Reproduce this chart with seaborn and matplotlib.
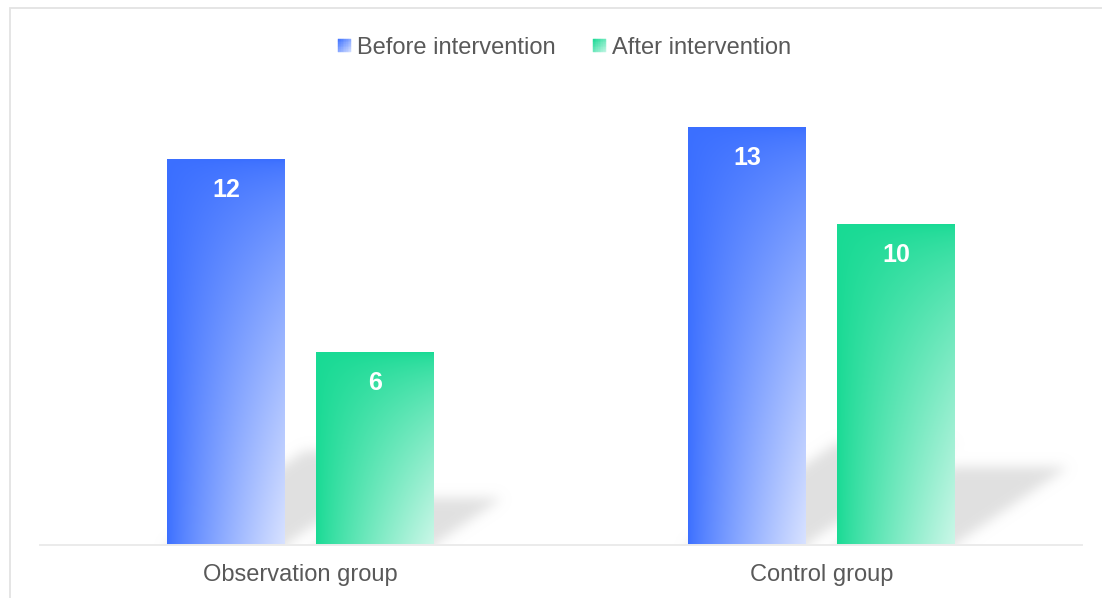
import numpy as np
import pandas as pd
import matplotlib
matplotlib.use("Agg")
import matplotlib.pyplot as plt
import seaborn as sns
from matplotlib.legend_handler import HandlerBase
from matplotlib.patches import Rectangle, Patch

# ---- data ----
groups = ["Observation group", "Control group"]
periods = ["Before intervention", "After intervention"]
before = [12, 13]
after = [6, 10]

df = pd.DataFrame({
    "group": groups * 2,
    "period": [periods[0]] * len(groups) + [periods[1]] * len(groups),
    "value": before + after,
})

# strong / pale ends of each series gradient
strong = {periods[0]: np.array([59, 111, 255]) / 255,
          periods[1]: np.array([24, 218, 148]) / 255}
pale = {periods[0]: np.array([216, 226, 255]) / 255,
        periods[1]: np.array([203, 247, 232]) / 255}

TEXT = "#595959"

sns.set_style("white")
plt.rcParams["font.family"] = ["Liberation Sans", "DejaVu Sans"]

W_PX, H_PX = 1102, 598
fig = plt.figure(figsize=(W_PX / 100, H_PX / 100), dpi=100)
ax = fig.add_axes([40 / W_PX, 1 - 545 / H_PX, 1042 / W_PX, (545 - 95.6) / H_PX])

sns.barplot(data=df, x="group", y="value", hue="period", order=groups,
            hue_order=periods, palette=[tuple(strong[p]) for p in periods],
            width=0.571, gap=0.208, errorbar=None, legend=False, ax=ax)

XLIM, YLIM = (-0.5, 1.5), (0, 14)

# ---- gradient fill for each bar ----
def bar_gradient(c0, c1, n=200):
    u = np.linspace(0, 1, n)[None, :]
    w = np.linspace(0, 1, n)[:, None]
    t = (u ** 0.85) * (w ** 0.65)
    return c0[None, None, :] + (c1 - c0)[None, None, :] * t[..., None]

bars = []
for cont, period in zip(ax.containers, periods):
    vals = dict(zip(df[df.period == period].group, df[df.period == period].value))
    for rect, g in zip(cont, groups):
        v = vals[g]
        x0, w = rect.get_x(), rect.get_width()
        rect.set_visible(False)
        ax.imshow(bar_gradient(strong[period], pale[period]),
                  extent=[x0, x0 + w, 0, v], origin="upper", aspect="auto",
                  interpolation="bilinear", zorder=3)
        bars.append((x0, x0 + w, v))
        ax.annotate(f"{v}", (x0 + w / 2, v), xytext=(0, -22),
                    textcoords="offset points", ha="center", va="center",
                    color="white", fontsize=18, fontweight="bold", zorder=5)

# ---- soft floor shadow cast by each bar ----
nx = 1042
y_lo, y_hi = -1.5, YLIM[1]
ny = int((y_hi - y_lo) * 32.1)
X, Y = np.meshgrid(np.linspace(XLIM[0], XLIM[1], nx),
                   np.linspace(y_hi, y_lo, ny))
mask = np.zeros_like(X)
rise, run = 0.243, 0.0219          # per unit of bar value
for x0, x1, v in bars:
    dy, dx = rise * v, run * v
    xs = X - (dx / dy) * np.clip(Y, 0, None)
    inside = (Y >= y_lo) & (Y <= dy) & (xs >= x0) & (xs <= x1)
    mask[inside] = 1.0

sig = 6.0
k = np.arange(-3 * int(sig), 3 * int(sig) + 1)
kern = np.exp(-0.5 * (k / sig) ** 2)
kern /= kern.sum()
mask = np.apply_along_axis(lambda r: np.convolve(r, kern, mode="same"), 1, mask)
mask = np.apply_along_axis(lambda c: np.convolve(c, kern, mode="same"), 0, mask)

shadow = np.zeros((ny, nx, 4))
shadow[..., :3] = 0.86
shadow[..., 3] = np.clip(mask, 0, 1) * 0.85
ax.imshow(shadow, extent=[XLIM[0], XLIM[1], y_lo, y_hi], origin="upper",
          aspect="auto", interpolation="bilinear", zorder=1)

ax.set_xlim(*XLIM)
ax.set_ylim(*YLIM)

# ---- axes styling ----
ax.set_xlabel("")
ax.set_ylabel("")
ax.set_yticks([])
for s in ("left", "top", "right"):
    ax.spines[s].set_visible(False)
ax.spines["bottom"].set_color("#ebebeb")
ax.spines["bottom"].set_linewidth(1.4)
ax.spines["bottom"].set_zorder(4)
ax.tick_params(axis="x", length=0, pad=14, labelsize=17, labelcolor=TEXT)

# ---- legend with gradient squares ----
class GradientSquare(HandlerBase):
    def __init__(self, c0, c1, n=8):
        super().__init__()
        self.c0, self.c1, self.n = c0, c1, n

    def create_artists(self, legend, orig_handle, xdescent, ydescent,
                       width, height, fontsize, trans):
        side = min(width, height)
        bx = -xdescent + (width - side) / 2
        by = -ydescent + (height - side) / 2
        step = side / self.n
        arts = []
        for i in range(self.n):
            for j in range(self.n):
                u = (i + 0.5) / self.n
                vtop = 1 - (j + 0.5) / self.n
                t = (u + vtop) / 2
                c = self.c0 + (self.c1 - self.c0) * t
                arts.append(Rectangle((bx + i * step, by + j * step), step, step,
                                      facecolor=c, edgecolor=c, lw=0.3,
                                      transform=trans))
        return arts

handles = [Patch(label=p) for p in periods]
fig.legend(handles, periods, loc="center",
           bbox_to_anchor=(564.5 / W_PX, 1 - 48 / H_PX), ncol=2, frameon=False,
           fontsize=17, labelcolor=TEXT, handlelength=0.55, handleheight=0.55,
           handletextpad=0.25, columnspacing=1.6, borderpad=0,
           handler_map={h: GradientSquare(strong[p], pale[p])
                        for h, p in zip(handles, periods)})

# ---- outer frame ----
fig.patches.append(Rectangle((9.5 / W_PX, -0.1), 1.2, 1.1 - 8.5 / H_PX,
                             transform=fig.transFigure, fill=False,
                             edgecolor="#e3e3e3", lw=1.3))

fig.savefig("out.png", dpi=100, facecolor="white")
